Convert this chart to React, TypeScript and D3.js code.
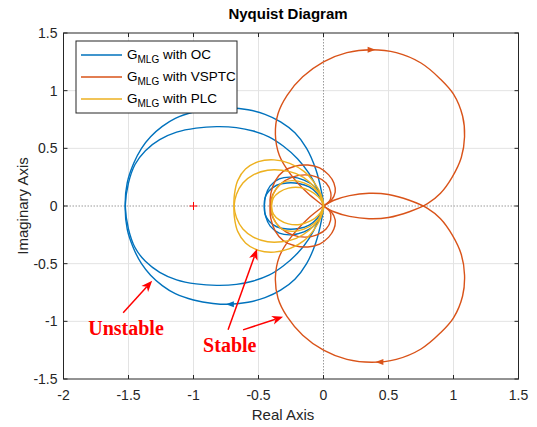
import React from 'react';
import * as d3 from 'd3';

type Pt = [number, number];

// axis ticks
const xTicks = [-2, -1.5, -1, -0.5, 0, 0.5, 1, 1.5];
const yTicks = [-1.5, -1, -0.5, 0, 0.5, 1, 1.5];

const seriesNames = ['with OC', 'with VSPTC', 'with PLC'];
const seriesColors = ['#0072BD', '#D95319', '#EDB120'];

// positive-frequency branches (the negative-frequency half is the mirror image)
const ocBranch: Pt[] = [
  [0, 0], [-0.02, -0.09], [-0.07, -0.17], [-0.15, -0.225], [-0.25, -0.25], [-0.34, -0.235],
  [-0.41, -0.175], [-0.445, -0.09], [-0.455, 0], [-0.45, 0.07], [-0.42, 0.13], [-0.36, 0.18],
  [-0.28, 0.2], [-0.19, 0.195], [-0.11, 0.165], [-0.05, 0.11], [-0.015, 0.05], [0, 0],
  [-0.015, -0.12], [-0.06, -0.32], [-0.13, -0.5], [-0.22, -0.635], [-0.33, -0.73],
  [-0.45, -0.795], [-0.58, -0.835], [-0.72, -0.852], [-0.85, -0.845], [-1.0, -0.815],
  [-1.14, -0.76], [-1.24, -0.69], [-1.33, -0.6], [-1.4, -0.5], [-1.46, -0.37],
  [-1.51, -0.2], [-1.525, 0],
  [-1.5, 0.2], [-1.45, 0.36], [-1.37, 0.48], [-1.26, 0.575], [-1.13, 0.64], [-0.98, 0.675],
  [-0.82, 0.688], [-0.67, 0.68], [-0.54, 0.65], [-0.42, 0.6], [-0.31, 0.52], [-0.2, 0.41],
  [-0.11, 0.28], [-0.04, 0.13], [0, 0],
];

const vsptcBranch: Pt[] = [
  [0, 0], [0.06, 0.05], [0.09, 0.12], [0.08, 0.2], [0.04, 0.27], [-0.03, 0.33],
  [-0.12, 0.355], [-0.22, 0.345], [-0.31, 0.3], [-0.37, 0.22], [-0.405, 0.11], [-0.41, 0],
  [-0.39, -0.1], [-0.33, -0.19], [-0.24, -0.25], [-0.14, -0.27], [-0.05, -0.25],
  [0.02, -0.2], [0.055, -0.12], [0.05, -0.05], [0, 0],
  [-0.12, 0.11], [-0.25, 0.27], [-0.34, 0.44], [-0.37, 0.62], [-0.35, 0.8], [-0.28, 0.96],
  [-0.16, 1.12], [0, 1.25], [0.18, 1.33], [0.37, 1.355], [0.56, 1.33], [0.75, 1.24],
  [0.9, 1.1], [1.0, 0.97], [1.07, 0.78], [1.085, 0.6], [1.06, 0.42], [0.99, 0.25],
  [0.9, 0.11], [0.8, 0.02], [0.66, -0.05], [0.5, -0.1], [0.35, -0.11], [0.2, -0.09],
  [0.08, -0.05], [0, 0],
];

const plcBranch: Pt[] = [
  [0, 0], [-0.02, 0.08], [-0.07, 0.15], [-0.15, 0.2], [-0.24, 0.22], [-0.32, 0.2],
  [-0.37, 0.14], [-0.395, 0.07], [-0.4, 0], [-0.385, -0.07], [-0.34, -0.12],
  [-0.27, -0.155], [-0.18, -0.16], [-0.1, -0.13], [-0.04, -0.08], [0, 0],
  [-0.02, 0.1], [-0.07, 0.2], [-0.15, 0.3], [-0.26, 0.37], [-0.38, 0.4], [-0.5, 0.385],
  [-0.6, 0.32], [-0.66, 0.22], [-0.685, 0.1], [-0.688, 0], [-0.67, -0.1], [-0.62, -0.2],
  [-0.54, -0.27], [-0.43, -0.31], [-0.32, -0.31], [-0.21, -0.28], [-0.11, -0.21],
  [-0.04, -0.12], [0, 0],
];

const branches = [ocBranch, vsptcBranch, plcBranch];

// direction arrows on the curves
const arrowMarks = [
  { s: 0, x: -0.72, y: -0.852, dir: -1 },
  { s: 1, x: 0.37, y: 1.355, dir: 1 },
  { s: 1, x: 0.43, y: -1.352, dir: -1 },
];

// red annotations
const noteTexts = [
  { text: 'Unstable', x: -1.81, y: -1.117 },
  { text: 'Stable', x: -0.926, y: -1.27 },
];
const notePointers: { from: Pt; to: Pt }[] = [
  { from: [-1.541, -0.926], to: [-1.318, -0.649] },
  { from: [-0.734, -1.074], to: [-0.511, -0.372] },
  { from: [-0.619, -1.074], to: [-0.311, -0.961] },
];

const W = 537;
const H = 427;
const L = 63.5, R = 518.5, T = 33, B = 379;
const sans = '"Liberation Sans", Arial, Helvetica, sans-serif';

export default function App() {
  const x = d3.scaleLinear().domain([-2, 1.5]).range([L, R]);
  const y = d3.scaleLinear().domain([-1.5, 1.5]).range([B, T]);

  const line = d3
    .line<Pt>()
    .x((d) => x(d[0]))
    .y((d) => y(d[1]))
    .curve(d3.curveCatmullRom.alpha(0.5));

  const axisColor = '#262626';

  return (
    <svg width={W} height={H} style={{ position: 'absolute', left: 0, top: 0, background: '#fff' }}>
      <rect x={0} y={0} width={W} height={H} fill="#fff" />
      <rect x={L} y={T} width={R - L} height={B - T} fill="#fff" />

      {/* grid */}
      <g stroke="#e3e3e3" strokeWidth={1}>
        {xTicks.filter((t) => t !== 0 && t > -2 && t < 1.5).map((t) => (
          <line key={'gx' + t} x1={x(t)} x2={x(t)} y1={T} y2={B} />
        ))}
        {yTicks.filter((t) => t !== 0 && t > -1.5 && t < 1.5).map((t) => (
          <line key={'gy' + t} x1={L} x2={R} y1={y(t)} y2={y(t)} />
        ))}
      </g>
      {/* zero lines */}
      <g stroke="#9a9a9a" strokeWidth={1} strokeDasharray="1.5,1.5">
        <line x1={x(0)} x2={x(0)} y1={T} y2={B} />
        <line x1={L} x2={R} y1={y(0)} y2={y(0)} />
      </g>

      {/* curves */}
      <g fill="none" strokeWidth={1.4} strokeLinejoin="round">
        {branches.map((b, i) => (
          <g key={'s' + i} stroke={seriesColors[i]}>
            <path d={line(b) || ''} />
            <path d={line(b.map((p) => [p[0], -p[1]] as Pt)) || ''} />
          </g>
        ))}
      </g>
      {arrowMarks.map((a, i) => {
        const px = x(a.x), py = y(a.y);
        return (
          <path
            key={'am' + i}
            d={`M${px + a.dir * 4},${py} L${px - a.dir * 4},${py - 3} L${px - a.dir * 4},${py + 3} Z`}
            fill={seriesColors[a.s]}
          />
        );
      })}

      {/* critical point */}
      <g stroke="#ff0000" strokeWidth={1}>
        <line x1={x(-1) - 4} x2={x(-1) + 4} y1={y(0)} y2={y(0)} />
        <line x1={x(-1)} x2={x(-1)} y1={y(0) - 4} y2={y(0) + 4} />
      </g>

      {/* box + ticks */}
      <rect x={L} y={T} width={R - L} height={B - T} fill="none" stroke={axisColor} strokeWidth={1} />
      <g stroke={axisColor} strokeWidth={1}>
        {xTicks.map((t) => (
          <g key={'tx' + t}>
            <line x1={x(t)} x2={x(t)} y1={B} y2={B - 4} />
            <line x1={x(t)} x2={x(t)} y1={T} y2={T + 4} />
          </g>
        ))}
        {yTicks.map((t) => (
          <g key={'ty' + t}>
            <line x1={L} x2={L + 4} y1={y(t)} y2={y(t)} />
            <line x1={R} x2={R - 4} y1={y(t)} y2={y(t)} />
          </g>
        ))}
      </g>
      <g fontFamily={sans} fontSize={14} fill={axisColor}>
        {xTicks.map((t) => (
          <text key={'lx' + t} x={x(t)} y={B + 21} textAnchor="middle">
            {t}
          </text>
        ))}
        {yTicks.map((t) => (
          <text key={'ly' + t} x={L - 6} y={y(t) + 5} textAnchor="end">
            {t}
          </text>
        ))}
      </g>

      {/* titles */}
      <text x={288} y={19} textAnchor="middle" fontFamily={sans} fontWeight="bold" fontSize={15} fill="#000">
        Nyquist Diagram
      </text>
      <text x={283} y={420} textAnchor="middle" fontFamily={sans} fontSize={15} fill={axisColor}>
        Real Axis
      </text>
      <text
        transform={`translate(28,${(T + B) / 2}) rotate(-90)`}
        textAnchor="middle"
        fontFamily={sans}
        fontSize={15}
        fill={axisColor}
      >
        Imaginary Axis
      </text>

      {/* legend */}
      <rect x={76} y={41} width={161} height={72} fill="#fff" stroke={axisColor} strokeWidth={1} />
      {seriesNames.map((n, i) => {
        const ly = 55 + i * 22;
        return (
          <g key={'lg' + i}>
            <line x1={81} x2={122} y1={ly} y2={ly} stroke={seriesColors[i]} strokeWidth={1.4} />
            <text x={127} y={ly + 4} fontFamily={sans} fontSize={13.5} fill="#000">
              G
              <tspan fontSize={10} dy={4}>MLG</tspan>
              <tspan dy={-4}>{' ' + n}</tspan>
            </text>
          </g>
        );
      })}

      {/* annotations */}
      {notePointers.map((p, i) => {
        const x1 = x(p.from[0]), y1 = y(p.from[1]);
        const x2 = x(p.to[0]), y2 = y(p.to[1]);
        const ang = Math.atan2(y2 - y1, x2 - x1);
        const len = 11, half = 4.5, back = 8;
        const bx = x2 - Math.cos(ang) * len, by = y2 - Math.sin(ang) * len;
        const nx = -Math.sin(ang), ny = Math.cos(ang);
        const mx = x2 - Math.cos(ang) * back, my = y2 - Math.sin(ang) * back;
        return (
          <g key={'np' + i}>
            <line x1={x1} y1={y1} x2={mx} y2={my} stroke="#ff0000" strokeWidth={1.5} />
            <path
              d={`M${x2},${y2} L${bx + nx * half},${by + ny * half} L${mx},${my} L${bx - nx * half},${by - ny * half} Z`}
              fill="#ff0000"
            />
          </g>
        );
      })}
      {noteTexts.map((n, i) => (
        <text
          key={'nt' + i}
          x={x(n.x)}
          y={y(n.y)}
          fontFamily={'"Liberation Serif", "Times New Roman", serif'}
          fontWeight="bold"
          fontSize={20}
          fill="#ff0000"
        >
          {n.text}
        </text>
      ))}
    </svg>
  );
}
